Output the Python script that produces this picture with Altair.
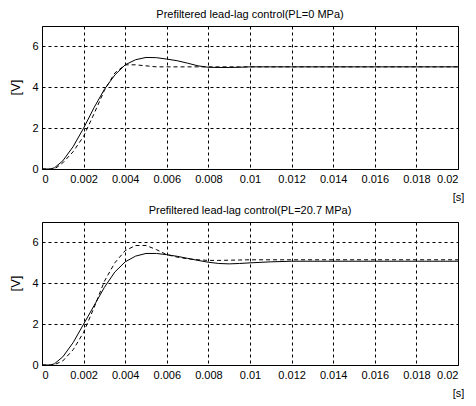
import altair as alt
import pandas as pd

# time axis (s)
t = [0, 0.0004, 0.0006, 0.001, 0.0015, 0.002, 0.0025, 0.003, 0.0035, 0.004,
     0.0045, 0.005, 0.0055, 0.006, 0.0065, 0.007, 0.0075, 0.008, 0.0085,
     0.009, 0.0095, 0.01, 0.011, 0.012, 0.014, 0.016, 0.018, 0.02]

top_solid = [0, 0, 0.06, 0.4, 1.1, 2.0, 3.0, 3.9, 4.6, 5.1,
             5.35, 5.46, 5.45, 5.38, 5.3, 5.18, 5.05, 4.98, 4.97,
             4.97, 4.98, 5.0, 5.0, 5.0, 5.0, 5.0, 5.0, 5.0]
top_dashed = [0, 0, 0.0, 0.3, 0.85, 1.6, 2.7, 3.85, 4.7, 5.1,
              5.1, 5.05, 5.0, 5.0, 5.0, 5.0, 5.0, 5.0, 5.0,
              5.0, 5.0, 5.0, 5.0, 5.0, 5.0, 5.0, 5.0, 5.0]
bot_solid = [0, 0, 0.06, 0.4, 1.1, 2.0, 2.9, 3.8, 4.55, 5.05,
             5.33, 5.46, 5.46, 5.4, 5.32, 5.22, 5.12, 5.03, 4.97,
             4.95, 4.97, 5.0, 5.05, 5.08, 5.08, 5.08, 5.08, 5.08]
bot_dashed = [0, 0, 0.02, 0.2, 0.75, 1.6, 2.8, 4.1, 5.0, 5.6,
              5.85, 5.85, 5.65, 5.4, 5.28, 5.2, 5.15, 5.12, 5.12,
              5.13, 5.14, 5.15, 5.15, 5.15, 5.15, 5.15, 5.15, 5.15]

titles = ["Prefiltered lead-lag control(PL=0 MPa)",
          "Prefiltered lead-lag control(PL=20.7 MPa)"]
x_ticks = [round(i * 0.002, 3) for i in range(11)]
y_ticks = [0, 2, 4, 6]

FONT = "Liberation Sans"


def panel(solid, dashed, title):
    df = pd.DataFrame({"t": t, "solid": solid, "dashed": dashed})
    x = alt.X("t:Q", scale=alt.Scale(domain=[0, 0.02], nice=False),
              axis=alt.Axis(values=x_ticks, title="[s]",
                            labelExpr="datum.value == 0 ? '0' : format(datum.value, '.3~f')",
                            titleX=416, titleY=28, titleAlign="center",
                            titleBaseline="middle", titleAnchor="end"))
    base = alt.Chart(df)
    l1 = base.mark_line(color="black", strokeWidth=1).encode(
        x=x,
        y=alt.Y("solid:Q", scale=alt.Scale(domain=[0, 7], nice=False),
                axis=alt.Axis(values=y_ticks, title="[V]", titleX=-27, titleY=61,
                              titleAlign="center", titleBaseline="middle",
                              titleFontSize=13)))
    l2 = base.mark_line(color="black", strokeWidth=1, strokeDash=[4, 3]).encode(
        x="t:Q", y="dashed:Q")
    return alt.layer(l1, l2).properties(
        width=416, height=143,
        title=alt.TitleParams(title, fontSize=11, font=FONT, fontWeight="normal",
                              color="black", offset=6))


chart = alt.vconcat(panel(top_solid, top_dashed, titles[0]),
                    panel(bot_solid, bot_dashed, titles[1]),
                    spacing=53, bounds="flush").configure_view(
    stroke="black", strokeWidth=1
).configure_axis(
    grid=True, gridColor="black", gridDash=[3, 3], gridWidth=1, gridOpacity=1,
    domain=False, ticks=False, labelFont=FONT, labelFontSize=11,
    labelColor="black", titleFont=FONT, titleFontSize=11, titleColor="black",
    titleFontWeight="normal", labelPadding=4
).properties(
    padding={"left": 0, "top": 0, "right": 0, "bottom": 0}
)

chart.save("out.html", embed_options={"renderer": "svg", "actions": False})
